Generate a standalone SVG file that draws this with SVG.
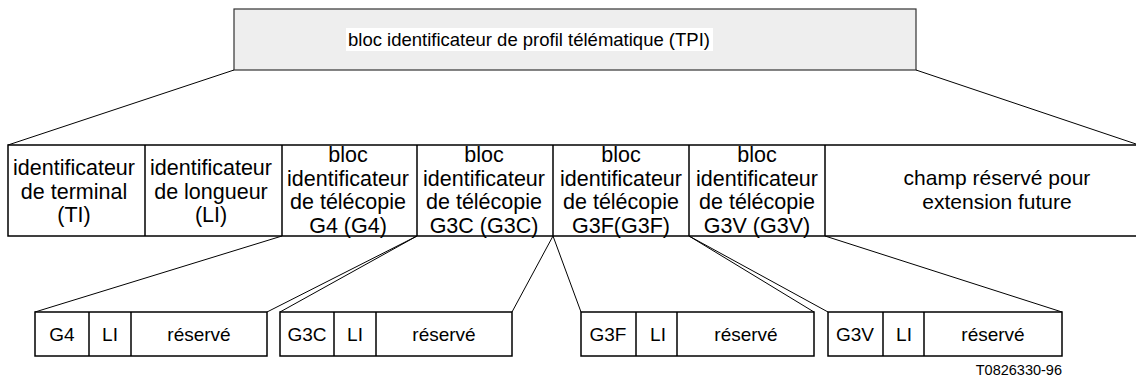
<svg xmlns="http://www.w3.org/2000/svg" width="1136" height="382" viewBox="0 0 1136 382">
<style>
text{font-family:"Liberation Sans",Arial,sans-serif;fill:#000;text-anchor:middle}
.mid{font-size:21.5px}
.bot{font-size:19px}
.cell{fill:#fff;stroke:#000;stroke-width:1.5}
.div{stroke:#000;stroke-width:1.5}
.conn{stroke:#000;stroke-width:1;fill:none}
</style>
<rect width="1136" height="382" fill="#fff"/>
<g id="tpi">
<rect x="234" y="9" width="682" height="61" fill="#eeeeee" stroke="#333" stroke-width="1.2"/>
<rect x="346" y="28" width="367" height="23" fill="#fff"/>
<text x="348" y="46" style="font-size:18.5px;text-anchor:start">bloc identificateur de profil télématique (TPI)</text>
</g>
<g id="connectors">
<line class="conn" x1="234" y1="70" x2="8" y2="145"/>
<line class="conn" x1="916" y1="70" x2="1136" y2="144"/>
<line class="conn" x1="282" y1="236" x2="35" y2="312"/>
<line class="conn" x1="417" y1="236" x2="267" y2="312"/>
<line class="conn" x1="417" y1="236" x2="280" y2="312"/>
<line class="conn" x1="553" y1="236" x2="512" y2="312"/>
<line class="conn" x1="553" y1="236" x2="581" y2="312"/>
<line class="conn" x1="689" y1="236" x2="814" y2="312"/>
<line class="conn" x1="689" y1="236" x2="828" y2="312"/>
<line class="conn" x1="825" y1="236" x2="1062" y2="312"/>
</g>
<g id="row">
<rect class="cell" x="8" y="145" width="1140" height="91"/>
<line class="div" x1="145" y1="145" x2="145" y2="236"/>
<line class="div" x1="282" y1="145" x2="282" y2="236"/>
<line class="div" x1="417" y1="145" x2="417" y2="236"/>
<line class="div" x1="553" y1="145" x2="553" y2="236"/>
<line class="div" x1="689" y1="145" x2="689" y2="236"/>
<line class="div" x1="825" y1="145" x2="825" y2="236"/>
</g>
<g id="ti" class="mid">
<text x="74" y="175">identificateur</text>
<text x="74" y="198.5">de terminal</text>
<text x="74" y="222">(TI)</text>
</g>
<g id="li" class="mid">
<text x="211" y="175">identificateur</text>
<text x="211" y="198.5">de longueur</text>
<text x="211" y="222">(LI)</text>
</g>
<g id="g4" class="mid">
<text x="348" y="162">bloc</text>
<text x="348" y="185.5">identificateur</text>
<text x="348" y="209">de télécopie</text>
<text x="348" y="232.5">G4 (G4)</text>
</g>
<g id="g3c" class="mid">
<text x="484" y="162">bloc</text>
<text x="484" y="185.5">identificateur</text>
<text x="484" y="209">de télécopie</text>
<text x="484" y="232.5">G3C (G3C)</text>
</g>
<g id="g3f" class="mid">
<text x="621" y="162">bloc</text>
<text x="621" y="185.5">identificateur</text>
<text x="621" y="209">de télécopie</text>
<text x="621" y="232.5">G3F(G3F)</text>
</g>
<g id="g3v" class="mid">
<text x="757" y="162">bloc</text>
<text x="757" y="185.5">identificateur</text>
<text x="757" y="209">de télécopie</text>
<text x="757" y="232.5">G3V (G3V)</text>
</g>
<g id="champ" class="mid">
<text x="997" y="185" style="font-size:21px">champ réservé pour</text>
<text x="997" y="209" style="font-size:21px">extension future</text>
</g>
<g id="b-g4" class="bot">
<rect class="cell" x="35" y="312" width="232" height="44"/>
<line class="div" x1="89" y1="312" x2="89" y2="356"/>
<line class="div" x1="131" y1="312" x2="131" y2="356"/>
<text x="62" y="341">G4</text>
<text x="110" y="341">LI</text>
<text x="199" y="341">réservé</text>
</g>
<g id="b-g3c" class="bot">
<rect class="cell" x="280" y="312" width="232" height="44"/>
<line class="div" x1="334" y1="312" x2="334" y2="356"/>
<line class="div" x1="376" y1="312" x2="376" y2="356"/>
<text x="307" y="341">G3C</text>
<text x="355" y="341">LI</text>
<text x="444" y="341">réservé</text>
</g>
<g id="b-g3f" class="bot">
<rect class="cell" x="581" y="312" width="233" height="44"/>
<line class="div" x1="636" y1="312" x2="636" y2="356"/>
<line class="div" x1="677" y1="312" x2="677" y2="356"/>
<text x="608" y="341">G3F</text>
<text x="658" y="341">LI</text>
<text x="746" y="341">réservé</text>
</g>
<g id="b-g3v" class="bot">
<rect class="cell" x="828" y="312" width="234" height="44"/>
<line class="div" x1="883" y1="312" x2="883" y2="356"/>
<line class="div" x1="924" y1="312" x2="924" y2="356"/>
<text x="855" y="341">G3V</text>
<text x="904" y="341">LI</text>
<text x="993" y="341">réservé</text>
</g>
<text x="1062" y="375" style="font-size:14.5px;text-anchor:end">T0826330-96</text>
</svg>
